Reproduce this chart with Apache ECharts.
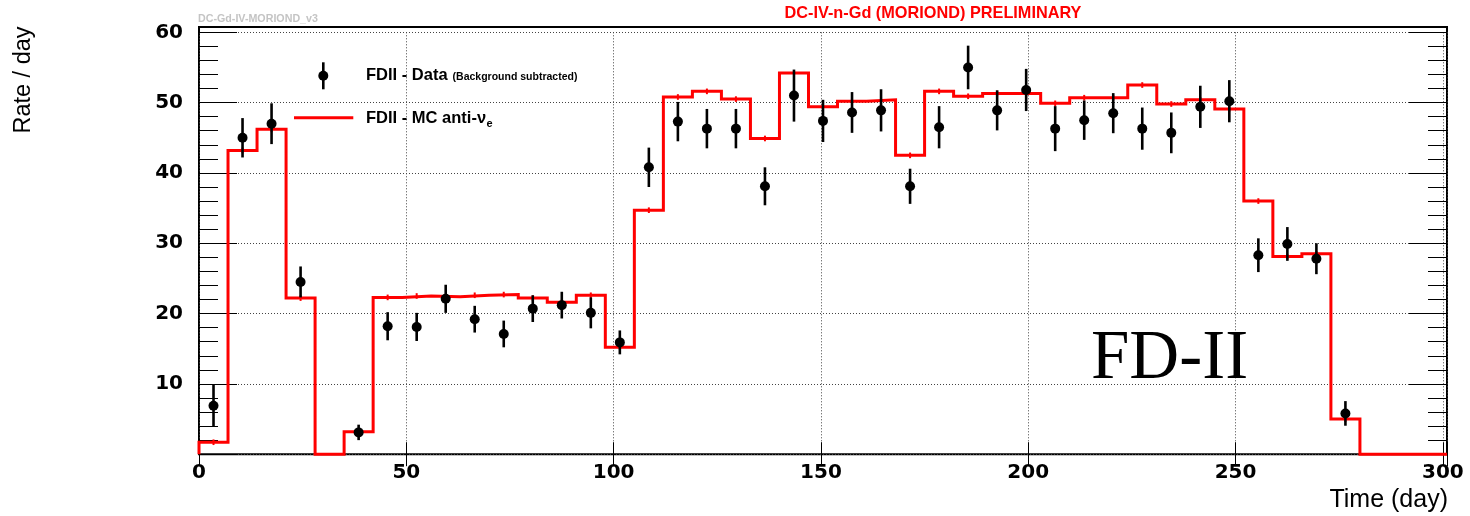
<!DOCTYPE html>
<html><head><meta charset="utf-8">
<script src="https://cdn.jsdelivr.net/npm/echarts@6/dist/echarts.min.js"></script>
<style>html,body{margin:0;padding:0;background:#fff}#c{width:1470px;height:516px}</style>
</head><body><div id="c"></div>
<script>
// ---- data ----
const binEdges = [0,7,14,21,28,35,42,49,56,63,70,77,84,91,98,105,112,119,126,133,140,147,154,161,168,175,182,189,196,203,210,217,224,231,238,245,252,259,266,273,280,287,294,301];
const mcRate = [1.7,43.2,46.2,22.2,0,3.2,22.3,22.5,22.4,22.6,22.7,22.2,21.6,22.6,15.2,34.7,50.8,51.6,50.5,44.9,54.2,49.4,50.2,50.4,42.5,51.6,50.9,51.3,51.3,49.9,50.7,50.7,52.5,49.8,50.4,49.1,36.0,28.1,28.5,5.0,0,0,0];
const mcErr  = [0.4,0.4,0.4,0.4,0,0.4,0.4,0.4,0.4,0.4,0.4,0.4,0.4,0.4,0.4,0.4,0.4,0.4,0.4,0.4,0.4,0.4,0.4,0.4,0.4,0.4,0.4,0.4,0.4,0.4,0.4,0.4,0.4,0.4,0.4,0.4,0.4,0.4,0.4,0.4,0,0,0];
const dataRate = [6.9,45.0,47.0,24.5,null,3.1,18.2,18.1,22.1,19.2,17.1,20.7,21.2,20.1,15.9,40.8,47.3,46.3,46.3,38.1,51.0,47.4,48.6,48.9,38.1,46.5,55.0,48.9,51.8,46.3,47.5,48.5,46.3,45.7,49.4,50.2,28.3,29.9,27.8,5.8,null,null,null];
const dataErr  = [3.0,2.8,2.9,2.2,null,1.1,2.0,2.0,2.0,1.9,1.9,1.9,1.9,2.2,1.7,2.8,2.8,2.8,2.8,2.7,3.7,3.0,2.9,3.0,2.5,3.0,3.1,2.85,3.0,3.2,2.8,2.85,3.0,2.9,3.0,3.0,2.4,2.4,2.2,1.75,null,null,null];
const xRange = [0, 301];
const yRange = [0, 60];
const xTickStep = 50;
const yTickStep = 10;
const titleText = 'DC-IV-n-Gd (MORIOND) PRELIMINARY';
const tagText = 'DC-Gd-IV-MORIOND_v3';
const legendData = 'FDII - Data';
const legendDataSub = '(Background subtracted)';
const legendMC = 'FDII - MC anti-\u03bd';
const legendMCSub = 'e';
const detectorLabel = 'FD-II';
const xTitle = 'Time (day)';
const yTitle = 'Rate / day';

// ---- derived series ----
const centers = mcRate.map((_, i) => (binEdges[i] + binEdges[i + 1]) / 2);
const stepData = [[binEdges[0], 0]];
mcRate.forEach((v, i) => stepData.push([binEdges[i], v]));
stepData.push([binEdges[binEdges.length - 1], mcRate[mcRate.length - 1]]);
const mcErrData = [];
mcRate.forEach((v, i) => { if (mcErr[i] > 0) mcErrData.push([centers[i], v - mcErr[i], v + mcErr[i]]); });
const ptData = [], errData = [];
dataRate.forEach((v, i) => {
  if (v === null) return;
  ptData.push([centers[i], v]);
  errData.push([centers[i], v - dataErr[i], v + dataErr[i]]);
});

const ctx = document.createElement('canvas').getContext('2d');
function tw(t, f) { ctx.font = f; return ctx.measureText(t).width; }
const FONT = '"Liberation Sans", Arial, Helvetica, sans-serif';
const legFont = 'bold 16.5px ' + FONT;
const legX = 366;
const wData = tw(legendData, legFont);
const wMC = tw(legendMC, legFont);

const tickFont = { fontFamily: '"DejaVu Sans", sans-serif', fontWeight: 'bold', fontSize: 20, color: '#000' };
const dotted = { show: true, lineStyle: { color: '#444', width: 1, type: [1, 2] } };

function errRender(color, width) {
  return function (params, api) {
    const x = api.value(0);
    const p1 = api.coord([x, api.value(1)]);
    const p2 = api.coord([x, api.value(2)]);
    return { type: 'line', shape: { x1: p1[0], y1: p1[1], x2: p2[0], y2: p2[1] }, style: { stroke: color, lineWidth: width, opacity: 1 } };
  };
}

const chart = echarts.init(document.getElementById('c'), null, { renderer: 'canvas' });
chart.setOption({
  animation: false,
  backgroundColor: '#fff',
  grid: [
    { left: 199, top: 32.3, width: 1248, height: 421.9, show: false },
    { left: 199, top: 27, width: 1248, height: 427.2, show: true, borderColor: '#000', borderWidth: 2, backgroundColor: 'transparent' }
  ],
  xAxis: [
    { gridIndex: 0, type: 'value', min: xRange[0], max: xRange[1], interval: xTickStep, position: 'bottom',
      axisLine: { show: false },
      axisTick: { show: true, inside: true, length: 12, lineStyle: { color: '#000', width: 1 } },
      axisLabel: Object.assign({ margin: 9, formatter: v => (v % xTickStep === 0 ? String(v) : '') }, tickFont),
      splitLine: dotted },
    { gridIndex: 1, type: 'value', min: xRange[0], max: xRange[1], interval: xTickStep, position: 'top',
      axisLine: { show: false },
      axisTick: { show: true, inside: true, length: 12, lineStyle: { color: '#000', width: 1 } },
      axisLabel: { show: false }, splitLine: { show: false } }
  ],
  yAxis: [
    { gridIndex: 0, type: 'value', min: yRange[0], max: yRange[1], interval: yTickStep, position: 'left',
      axisLine: { show: false },
      axisTick: { show: true, inside: true, length: 38, lineStyle: { color: '#000', width: 1 } },
      minorTick: { show: true, splitNumber: 5, length: 19, lineStyle: { color: '#000', width: 1 } },
      axisLabel: Object.assign({ margin: 16, formatter: v => (v > 0 && v % yTickStep === 0 ? String(v) : '') }, tickFont),
      splitLine: dotted },
    { gridIndex: 0, type: 'value', min: yRange[0], max: yRange[1], interval: yTickStep, position: 'right',
      axisLine: { show: false },
      axisTick: { show: true, inside: true, length: 38, lineStyle: { color: '#000', width: 1 } },
      minorTick: { show: true, splitNumber: 5, length: 19, lineStyle: { color: '#000', width: 1 } },
      axisLabel: { show: false }, splitLine: { show: false } },
    { gridIndex: 1, type: 'value', min: 0, max: 1, show: false }
  ],
  series: [
    { type: 'line', xAxisIndex: 0, yAxisIndex: 0, step: 'end', data: stepData, showSymbol: false, symbol: 'none',
      clip: false, z: 3, lineStyle: { color: '#ff0000', width: 3, join: 'miter' } },
    { type: 'custom', xAxisIndex: 0, yAxisIndex: 0, data: mcErrData, encode: { x: 0, y: [1, 2] }, z: 4,
      renderItem: errRender('#ff0000', 2) },
    { type: 'custom', xAxisIndex: 0, yAxisIndex: 0, data: errData, encode: { x: 0, y: [1, 2] }, z: 5,
      renderItem: errRender('#000', 2.6) },
    { type: 'scatter', xAxisIndex: 0, yAxisIndex: 0, data: ptData, symbol: 'circle', symbolSize: 10, z: 6,
      itemStyle: { color: '#000', opacity: 1 } }
  ],
  graphic: [
    { type: 'text', x: 198, y: 19, z: 10, style: { text: tagText, font: 'bold 10.7px ' + FONT, fill: '#c4c4c4', align: 'left', verticalAlign: 'middle' } },
    { type: 'text', x: 933, y: 14, z: 10, style: { text: titleText, font: 'bold 16.3px ' + FONT, fill: '#ff0000', align: 'center', verticalAlign: 'middle' } },
    { type: 'line', z: 10, shape: { x1: 323.3, y1: 62.3, x2: 323.3, y2: 89.3 }, style: { stroke: '#000', lineWidth: 2.6 } },
    { type: 'circle', z: 11, shape: { cx: 323.3, cy: 75.7, r: 5 }, style: { fill: '#000' } },
    { type: 'text', x: legX, y: 75.5, z: 10, style: { text: legendData, font: legFont, fill: '#000', align: 'left', verticalAlign: 'middle' } },
    { type: 'text', x: legX + wData + 5, y: 77.5, z: 10, style: { text: legendDataSub, font: 'bold 10.5px ' + FONT, fill: '#000', align: 'left', verticalAlign: 'middle' } },
    { type: 'line', z: 10, shape: { x1: 294, y1: 117.7, x2: 353.3, y2: 117.7 }, style: { stroke: '#ff0000', lineWidth: 3 } },
    { type: 'text', x: legX, y: 118, z: 10, style: { text: legendMC, font: legFont, fill: '#000', align: 'left', verticalAlign: 'middle' } },
    { type: 'text', x: legX + wMC + 0.5, y: 124, z: 10, style: { text: legendMCSub, font: 'bold 11px ' + FONT, fill: '#000', align: 'left', verticalAlign: 'middle' } },
    { type: 'text', x: 1091, y: 360, z: 10, style: { text: detectorLabel, font: '69px "Liberation Serif", "Times New Roman", serif', fill: '#000', align: 'left', verticalAlign: 'middle' } },
    { type: 'text', x: 24, y: 80, rotation: Math.PI / 2, z: 10, style: { text: yTitle, font: '23.5px ' + FONT, fill: '#000', align: 'center', verticalAlign: 'middle' } },
    { type: 'text', x: 1448, y: 500, z: 10, style: { text: xTitle, font: '25px ' + FONT, fill: '#000', align: 'right', verticalAlign: 'middle' } }
  ]
});
</script>
</body></html>
